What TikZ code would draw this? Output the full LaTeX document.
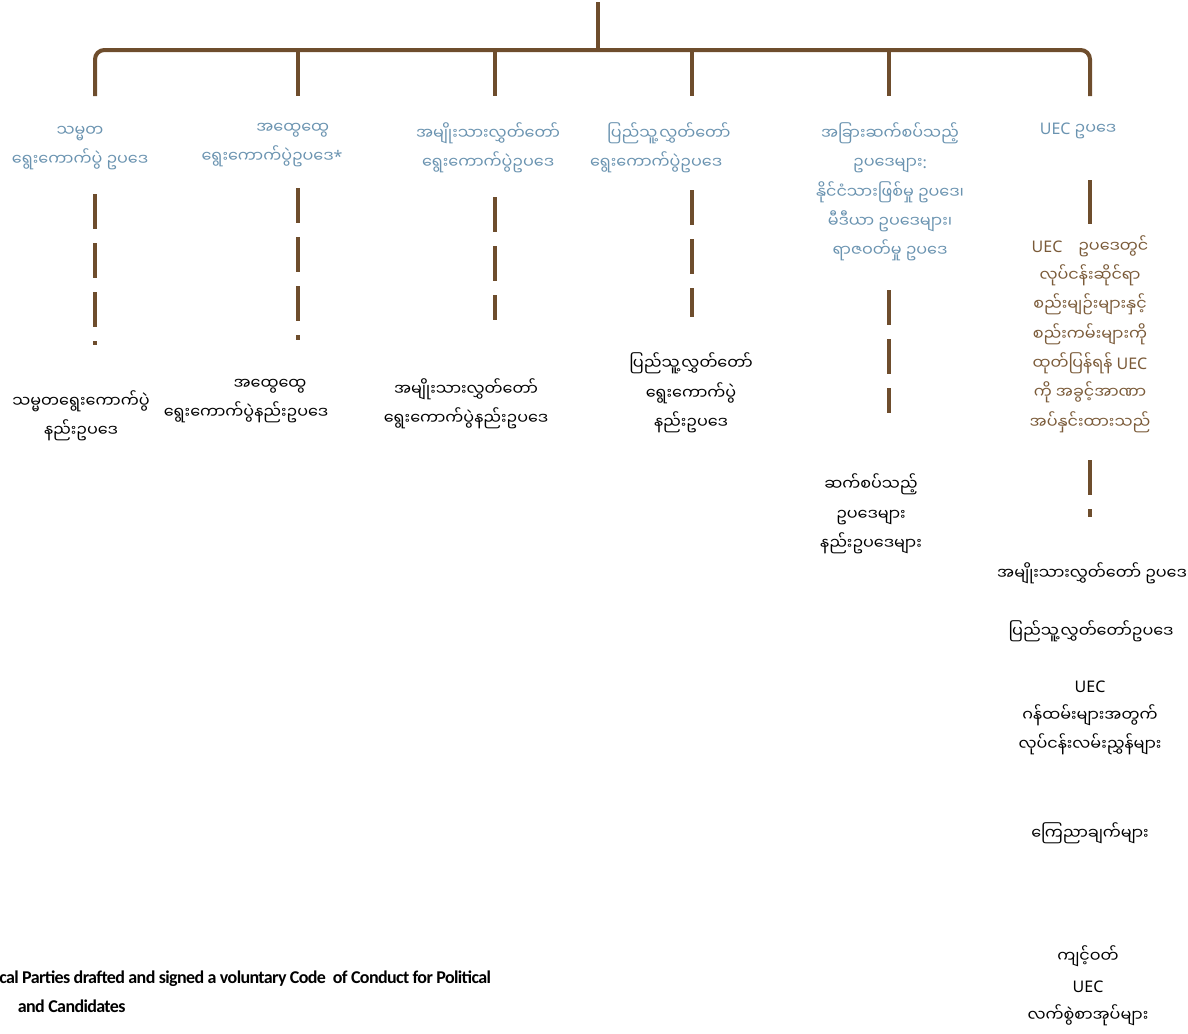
\documentclass[tikz,border=0pt]{standalone}
\usepackage{fontspec}
\newfontfamily\mmfont[Script=Myanmar]{Noto Sans Myanmar UI}
\newfontfamily\latfont{Noto Sans}
\newfontfamily\enfont[LetterSpace=-3.5]{Carlito}
\definecolor{linebrown}{HTML}{6E4D2D}
\definecolor{headblue}{HTML}{6A93B0}
\definecolor{rulebrown}{HTML}{7A5A38}
\newcommand{\mmtext}{\fontsize{12}{22}\selectfont\mmfont}
\newcommand{\lat}[1]{{\latfont #1}}

\begin{document}
\begin{tikzpicture}[
        % --- SETTINGS (coordinates are pixels of the 1188x1033 frame) ---
        x=0.75pt, y=-0.75pt,
        % the tree lines
        trunk/.style={
            draw=linebrown,
            line width=3pt
        },
        % broken lines under the law titles
        dashline/.style={
            trunk,
            dash pattern=on 26.25pt off 10.5pt
        },
        % law titles (blue)
        lawhead/.style={
            align=center,
            text=headblue,
            font=\mmtext
        },
        % by-laws and other texts (black)
        lawsub/.style={
            align=center,
            font=\mmtext
        },
        % note under the UEC law (brown)
        ruletext/.style={
            align=center,
            text=rulebrown,
            font=\mmtext
        }
    ]
    \useasboundingbox (0,0) rectangle (1188,1033);

    % --- TOP: TRUNK AND BRANCHES ---
    \coordinate (root) at (598,2);
    \coordinate (hub) at (598,50);
    \coordinate (t1) at (95,96);
    \coordinate (t2) at (298,96);
    \coordinate (t3) at (495,96);
    \coordinate (t4) at (692,96);
    \coordinate (t5) at (889,96);
    \coordinate (t6) at (1090,96);

    \draw[trunk] (root) -- (hub);
    \draw[trunk, rounded corners=7pt] (t1) |- (hub) -| (t6);
    \foreach \i in {2,...,5}
        \draw[trunk] (t\i |- hub) -- (t\i);

    % --- LAW TITLES ---
    \node[lawhead] (lab1) at (80,148) {သမ္မတ\\ရွေးကောက်ပွဲ ဥပဒေ};
    \node[lawhead] (lab2) at (272,145) {\hspace*{2.6em}အထွေထွေ\\ရွေးကောက်ပွဲဥပဒေ\lat{*}};
    \node[lawhead] (lab3) at (488,148) {အမျိုးသားလွှတ်တော်\\ရွေးကောက်ပွဲဥပဒေ};
    \node[lawhead] (lab4) at (656,148) {\hspace*{1.6em}ပြည်သူ့လွှတ်တော်\\ရွေးကောက်ပွဲဥပဒေ};
    \node[lawhead] (lab5) at (890,192) {အခြားဆက်စပ်သည့်\\ဥပဒေများ\lat{:}\\နိုင်ငံသားဖြစ်မှု ဥပဒေ၊\\မီဒီယာ ဥပဒေများ၊\\ရာဇဝတ်မှု ဥပဒေ};
    \node[lawhead] (lab6) at (1078,131) {\lat{UEC} ဥပဒေ};

    % --- BY-LAWS ---
    \node[lawsub] (law1) at (81,416) {သမ္မတရွေးကောက်ပွဲ\\နည်းဥပဒေ};
    \node[lawsub] (law2) at (246,401) {\hspace*{3em}အထွေထွေ\\ရွေးကောက်ပွဲနည်းဥပဒေ};
    \node[lawsub] (law3) at (466,404) {အမျိုးသားလွှတ်တော်\\ရွေးကောက်ပွဲနည်းဥပဒေ};
    \node[lawsub] (law4) at (691,393) {ပြည်သူ့လွှတ်တော်\\ရွေးကောက်ပွဲ\\နည်းဥပဒေ};
    \node[lawsub] (law5) at (871,514) {ဆက်စပ်သည့်\\ဥပဒေများ\\နည်းဥပဒေများ};

    % --- UEC COLUMN ---
    \node[ruletext] (rule) at (1090,334) {\lat{UEC}\quad ဥပဒေတွင်\\လုပ်ငန်းဆိုင်ရာ\\စည်းမျဉ်းများနှင့်\\စည်းကမ်းများကို\\ထုတ်ပြန်ရန် \lat{UEC}\\ကို အခွင့်အာဏာ\\အပ်နှင်းထားသည်};
    \node[lawsub] (act1) at (1092,573) {အမျိုးသားလွှတ်တော် ဥပဒေ};
    \node[lawsub] (act2) at (1091,631) {ပြည်သူ့လွှတ်တော်ဥပဒေ};
    \node[lawsub] (guide) at (1090,718) {\lat{UEC}\\ဂန်ထမ်းများအတွက်\\လုပ်ငန်းလမ်းညွှန်များ};
    \node[lawsub] (decl) at (1090,833) {ကြေညာချက်များ};
    \node[lawsub] (code) at (1088,986) {ကျင့်ဝတ်\\\lat{UEC}\\လက်စွဲစာအုပ်များ};

    % --- BROKEN LINES ---
    \coordinate (d1a) at (95,194);  \coordinate (d1b) at (95,345);
    \coordinate (d2a) at (298,188); \coordinate (d2b) at (298,340);
    \coordinate (d3a) at (495,197); \coordinate (d3b) at (495,320);
    \coordinate (d4a) at (692,190); \coordinate (d4b) at (692,317);
    \coordinate (d5a) at (889,290); \coordinate (d5b) at (889,413);
    \coordinate (d6a) at (1090,180); \coordinate (d6b) at (1090,224);
    \coordinate (d7a) at (1090,460); \coordinate (d7b) at (1090,517);
    \foreach \i in {1,...,5,7}
        \draw[dashline] (d\i a) -- (d\i b);
    \draw[trunk] (d6a) -- (d6b);

    % --- NOTE AT THE FOOT ---
    \node[anchor=west, font=\enfont\bfseries\fontsize{13.5}{22}\selectfont, align=left, inner sep=0pt] (note) at (-1,992)
        {cal Parties drafted and signed a voluntary Code\ \ of Conduct for Political\\\hspace*{14pt}and Candidates};

\end{tikzpicture}
\end{document}
